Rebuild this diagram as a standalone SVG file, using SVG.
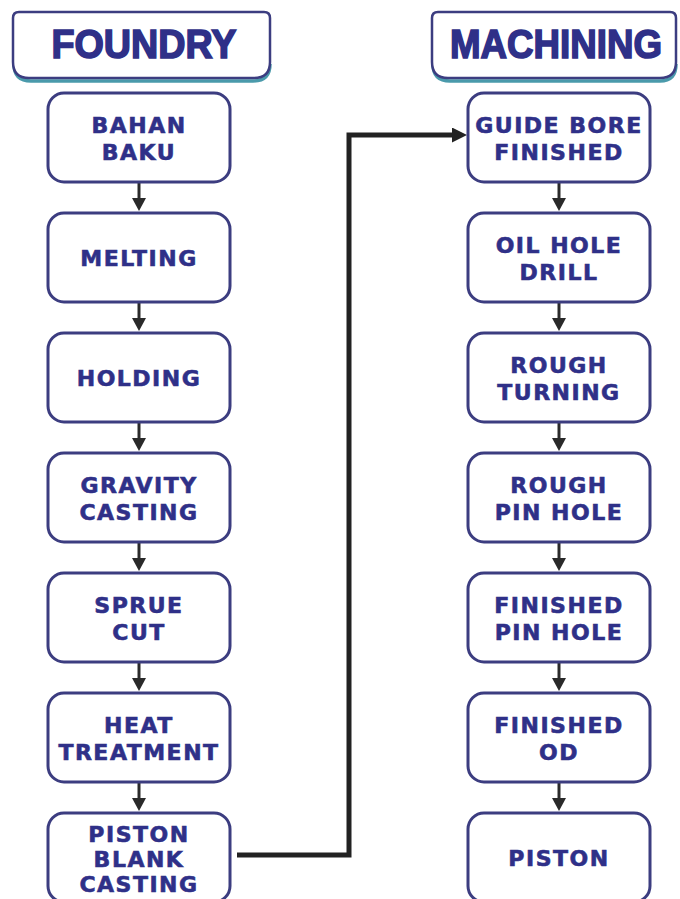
<svg xmlns="http://www.w3.org/2000/svg" width="680" height="899" viewBox="0 0 680 899">
<style>
.box{fill:#fff;stroke:#3c3d80;stroke-width:3}
.hdr{fill:#fff;stroke:#3c3d80;stroke-width:2.5}
.shd{fill:none;stroke:#4a9aab;stroke-width:3.5}
.t{font-family:"DejaVu Sans",sans-serif;font-weight:bold;font-size:22px;fill:#2f3088;stroke:#2f3088;stroke-width:0.6;text-anchor:middle;letter-spacing:1.5px}
.h{font-family:"Liberation Sans",Arial,sans-serif;font-weight:bold;font-size:40px;fill:#2f3088;stroke:#2f3088;stroke-width:1.6;text-anchor:middle}
.arr{fill:none;stroke:#2a2a2a;stroke-width:3}
.con{fill:none;stroke:#222;stroke-width:5}
</style>
<defs>
<marker id="ah" markerUnits="userSpaceOnUse" markerWidth="13" markerHeight="14" refX="3" refY="7" orient="auto"><path d="M0,0 L13,7 L0,14 Z" fill="#2a2a2a"/></marker>
<marker id="ah2" markerUnits="userSpaceOnUse" markerWidth="15" markerHeight="15" refX="3" refY="7.5" orient="auto"><path d="M0,0 L15,7.5 L0,15 Z" fill="#222"/></marker>
</defs>
<rect width="680" height="899" fill="#fff"/>
<g id="hdr-foundry">
<path class="shd" d="M14,64 Q14,81 31,81 H253 Q270,81 270,64"/>
<path class="hdr" d="M19,12 H264 Q270,12 270,18 V62 Q270,78 254,78 H29 Q13,78 13,62 V18 Q13,12 19,12 Z"/>
<text class="h" x="144" y="58" textLength="185" lengthAdjust="spacingAndGlyphs">FOUNDRY</text>
</g>
<g id="hdr-machining">
<path class="shd" d="M433,64 Q433,81 450,81 H660 Q676,81 676,64"/>
<path class="hdr" d="M438,12 H670 Q676,12 676,18 V62 Q676,78 660,78 H448 Q432,78 432,62 V18 Q432,12 438,12 Z"/>
<text class="h" x="556" y="58" textLength="212" lengthAdjust="spacingAndGlyphs">MACHINING</text>
</g>
<g id="connectors">
<path class="arr" d="M139,183 V201" marker-end="url(#ah)"/>
<path class="arr" d="M139,303 V321" marker-end="url(#ah)"/>
<path class="arr" d="M139,423 V441" marker-end="url(#ah)"/>
<path class="arr" d="M139,543 V561" marker-end="url(#ah)"/>
<path class="arr" d="M139,663 V681" marker-end="url(#ah)"/>
<path class="arr" d="M139,783 V801" marker-end="url(#ah)"/>
<path class="arr" d="M559,183 V201" marker-end="url(#ah)"/>
<path class="arr" d="M559,303 V321" marker-end="url(#ah)"/>
<path class="arr" d="M559,423 V441" marker-end="url(#ah)"/>
<path class="arr" d="M559,543 V561" marker-end="url(#ah)"/>
<path class="arr" d="M559,663 V681" marker-end="url(#ah)"/>
<path class="arr" d="M559,783 V801" marker-end="url(#ah)"/>
<path class="con" d="M237,855 H349 V135 H455" marker-end="url(#ah2)"/>
</g>
<g id="n-bahan"><rect class="box" x="48" y="93" width="182" height="89" rx="16"/><text class="t" x="139" y="133">BAHAN</text><text class="t" x="139" y="160">BAKU</text></g>
<g id="n-melting"><rect class="box" x="48" y="213" width="182" height="89" rx="16"/><text class="t" x="139" y="266">MELTING</text></g>
<g id="n-holding"><rect class="box" x="48" y="333" width="182" height="89" rx="16"/><text class="t" x="139" y="386">HOLDING</text></g>
<g id="n-gravity"><rect class="box" x="48" y="453" width="182" height="89" rx="16"/><text class="t" x="139" y="493">GRAVITY</text><text class="t" x="139" y="520">CASTING</text></g>
<g id="n-sprue"><rect class="box" x="48" y="573" width="182" height="89" rx="16"/><text class="t" x="139" y="613">SPRUE</text><text class="t" x="139" y="640">CUT</text></g>
<g id="n-heat"><rect class="box" x="48" y="693" width="182" height="89" rx="16"/><text class="t" x="139" y="733">HEAT</text><text class="t" x="139" y="760">TREATMENT</text></g>
<g id="n-blank"><rect class="box" x="48" y="813" width="182" height="89" rx="16"/><text class="t" x="139" y="842">PISTON</text><text class="t" x="139" y="867">BLANK</text><text class="t" x="139" y="892">CASTING</text></g>
<g id="n-guide"><rect class="box" x="468" y="93" width="182" height="89" rx="16"/><text class="t" x="559" y="133">GUIDE BORE</text><text class="t" x="559" y="160">FINISHED</text></g>
<g id="n-oil"><rect class="box" x="468" y="213" width="182" height="89" rx="16"/><text class="t" x="559" y="253">OIL HOLE</text><text class="t" x="559" y="280">DRILL</text></g>
<g id="n-rturn"><rect class="box" x="468" y="333" width="182" height="89" rx="16"/><text class="t" x="559" y="373">ROUGH</text><text class="t" x="559" y="400">TURNING</text></g>
<g id="n-rpin"><rect class="box" x="468" y="453" width="182" height="89" rx="16"/><text class="t" x="559" y="493">ROUGH</text><text class="t" x="559" y="520">PIN HOLE</text></g>
<g id="n-fpin"><rect class="box" x="468" y="573" width="182" height="89" rx="16"/><text class="t" x="559" y="613">FINISHED</text><text class="t" x="559" y="640">PIN HOLE</text></g>
<g id="n-fod"><rect class="box" x="468" y="693" width="182" height="89" rx="16"/><text class="t" x="559" y="733">FINISHED</text><text class="t" x="559" y="760">OD</text></g>
<g id="n-piston"><rect class="box" x="468" y="813" width="182" height="89" rx="16"/><text class="t" x="559" y="866">PISTON</text></g>
</svg>
